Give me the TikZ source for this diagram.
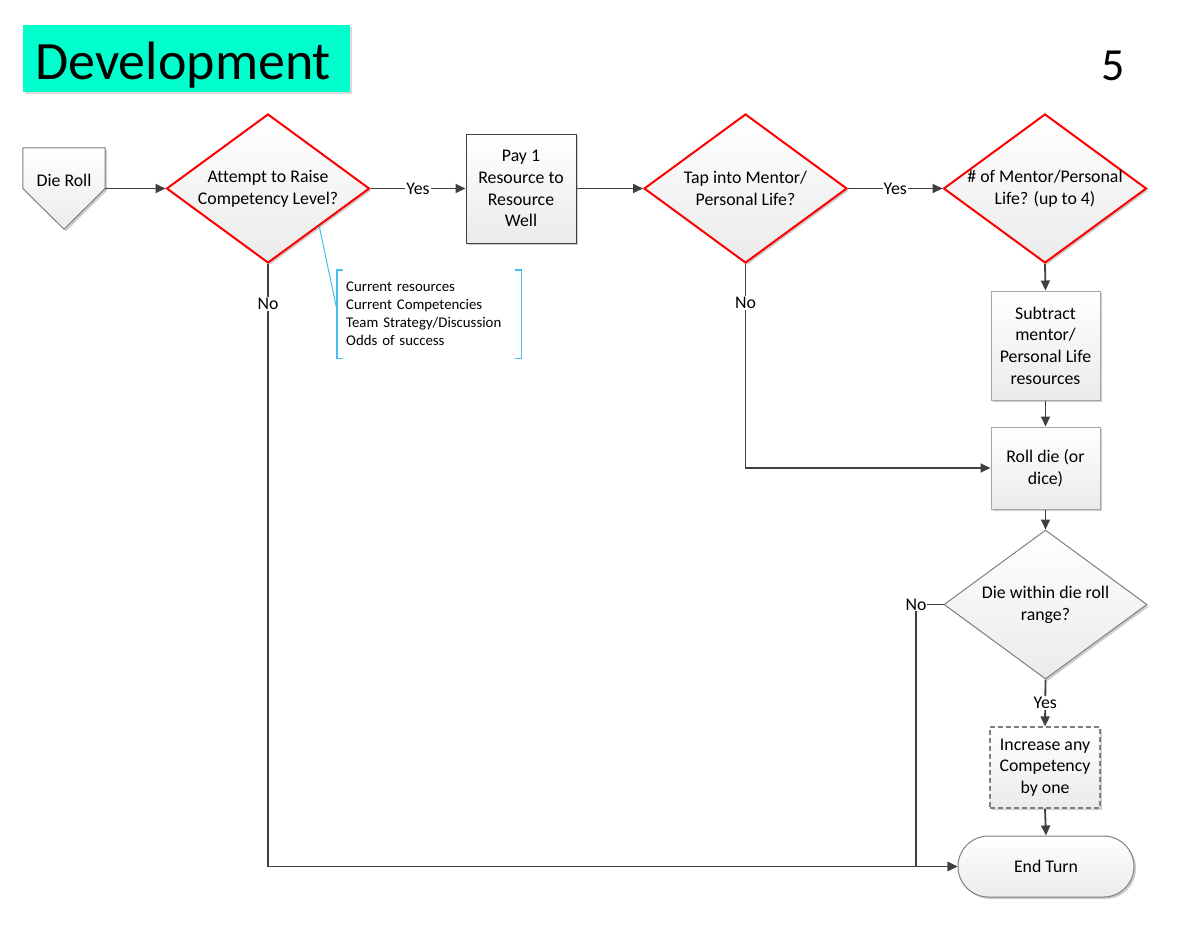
\documentclass[tikz,border=0pt]{standalone}
\usepackage{fontspec}
\setmainfont{Carlito}[Ligatures=NoCommon]
\usetikzlibrary{shapes.geometric,arrows.meta,shadows,calc}
\definecolor{titlec}{RGB}{0,255,204}
\definecolor{linec}{RGB}{64,64,64}
\definecolor{annc}{RGB}{70,190,240}
\begin{document}
\begin{tikzpicture}[x=1pt,y=-1pt,
  txt/.style={font=\fontsize{17.8}{21.7}\selectfont, align=center},
  gfill/.style={top color=white, bottom color=gray!16},
  shad/.style={drop shadow={shadow xshift=2pt,shadow yshift=-2pt,opacity=0.2,fill=black}},
  dia/.style={diamond, draw=red, line width=2pt, minimum width=203pt, minimum height=149pt, inner sep=0pt, gfill, shad},
  boxnode/.style={rectangle, draw=linec, line width=1pt, gfill, shad, txt, inner sep=0pt},
  conn/.style={draw=linec, line width=1.8pt, -{Triangle[length=10pt,width=9pt]}},
  lab/.style={fill=white, inner sep=1pt, font=\fontsize{17.8}{20}\selectfont}
]
\useasboundingbox (0,0) rectangle (1197,924);

% title
\node[fill=titlec, minimum width=327pt, minimum height=67pt, anchor=north west, inner sep=0pt,
      drop shadow={shadow xshift=2pt,shadow yshift=-2pt,opacity=0.15,fill=black}] (title) at (23,25) {};
\node[anchor=base west, font=\fontsize{54}{60}\selectfont, inner sep=0pt] (ttext) at (35,79) {Development};
\node[anchor=base, font=\fontsize{46}{50}\selectfont, inner sep=0pt] (num) at (1113,80) {5};

% die roll
\node[minimum width=82pt, minimum height=81pt, inner sep=0pt] (dr) at (64,188.5) {};
\path[draw=gray, line width=1pt, gfill, shad] (dr.north west) -- (dr.north east) -- (dr.east) -- (dr.south) -- (dr.west) -- cycle;
\node[txt] (drt) at (64,180) {Die Roll};

% diamonds
\node[dia] (d1) at (268,188.5) {};
\node[txt] (d1t) at (d1) {Attempt to Raise\\Competency Level?};
\node[dia] (d2) at (745.5,188.5) {};
\node[txt] (d2t) at (d2) {Tap into Mentor/\\Personal Life?};
\node[dia] (d3) at (1045,188.5) {};
\node[txt] (d3t) at (d3) {\# of Mentor/Personal\\Life? (up to 4)};
\node[dia, draw=gray, line width=1pt] (d4) at (1045.5,604.5) {};
\node[txt] (d4t) at (d4) {Die within die roll\\range?};

% boxes
\node[boxnode, minimum width=110pt, minimum height=109pt] (pay) at (521,188.5) {Pay 1\\Resource to\\Resource\\Well};
\node[boxnode, draw=gray!70, minimum width=109pt, minimum height=109pt] (sub) at (1045.5,345.5) {Subtract\\mentor/\\Personal Life\\resources};
\node[boxnode, draw=gray!70, minimum width=109pt, minimum height=82pt] (roll) at (1045.5,468) {Roll die (or\\dice)};
\node[boxnode, draw=gray, line width=1.2pt, dash pattern=on 5pt off 3pt, minimum width=110pt, minimum height=81pt] (inc) at (1045,767.5) {Increase any\\Competency\\by one};
\node[boxnode, draw=gray, rounded corners=30.5pt, minimum width=176pt, minimum height=61pt] (endt) at (1046,866.5) {End Turn};

% annotation
\node[font=\fontsize{14.8}{18}\selectfont, align=left, text width=166pt, inner xsep=9pt, inner ysep=0pt,
      minimum height=88pt, anchor=north west] (ann) at (337,270)
  {Current resources\\Current Competencies\\Team Strategy/Discussion\\Odds of success};
\draw[annc, line width=1.2pt] ([xshift=6pt]ann.north west) -- (ann.north west) -- (ann.south west) -- ([xshift=6pt]ann.south west);
\draw[annc, line width=1.2pt] ([xshift=-6pt]ann.north east) -- (ann.north east) -- (ann.south east) -- ([xshift=-6pt]ann.south east);
\draw[annc, line width=1pt] ($(d1.east)!0.5!(d1.south)$) -- ($(ann.west)+(0,-4)$);

% connectors
\draw[conn] (dr.east) -- (d1.west);
\draw[conn] (d1.east) -- node[lab] (y1) {Yes} (pay.west);
\draw[conn] (pay.east) -- (d2.west);
\draw[conn] (d2.east) -- node[lab] (y2) {Yes} (d3.west);
\draw[conn] (d3.south) -- (sub.north);
\draw[conn] (sub.south) -- (roll.north);
\draw[conn] (d2.south) |- (roll.west);
\node[lab] (n2) at ($(d2.south)+(0,39)$) {No};
\draw[conn] (roll.south) -- (d4.north);
\draw[conn] (d4.south) -- node[lab] (y4) {Yes} (inc.north);
\draw[conn] (inc.south) -- (endt.north);
\draw[conn] (d1.south) |- (endt.west);
\node[lab] (n1) at ($(d1.south)+(0,40)$) {No};
\coordinate (c4) at (916,604.5);
\draw[conn] (d4.west) -- (c4) |- (endt.west);
\node[lab] (n4) at (c4) {No};
\end{tikzpicture}
\end{document}
